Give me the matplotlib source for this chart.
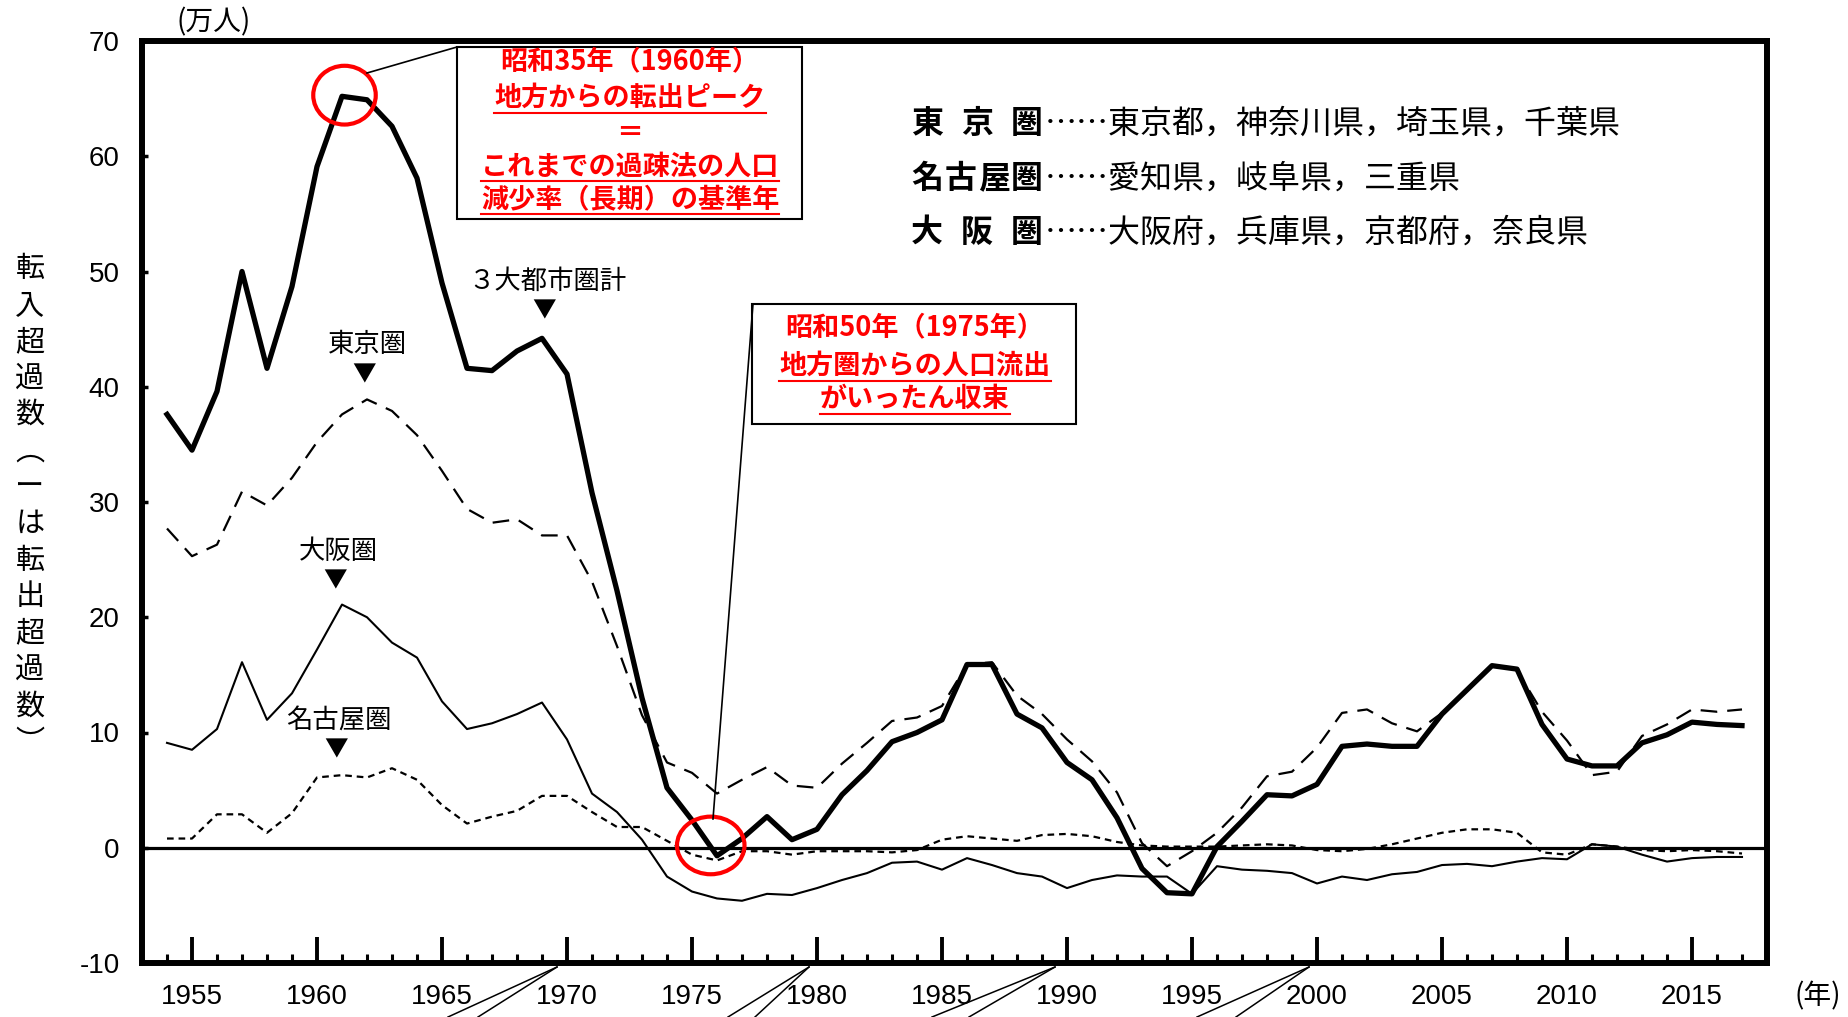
import matplotlib
matplotlib.use('Agg')
import matplotlib.pyplot as plt
from matplotlib.patches import Ellipse, Rectangle
from matplotlib.lines import Line2D
from matplotlib.ticker import MultipleLocator

# 転入超過数（万人）, 1954-2017
years = list(range(1954, 2018))
total = [37.6, 34.5, 39.6, 50.0, 41.6, 48.7, 59.1, 65.2, 64.9, 62.6,
         58.1, 49.0, 41.6, 41.4, 43.1, 44.2, 41.1, 30.8, 22.3, 13.0,
         5.2, 2.4, -0.7, 0.8, 2.7, 0.7, 1.6, 4.6, 6.7, 9.2,
         10.0, 11.1, 15.9, 15.9, 11.6, 10.4, 7.4, 5.9, 2.6, -1.8,
         -3.9, -4.0, 0.1, 2.3, 4.6, 4.5, 5.5, 8.8, 9.0, 8.8,
         8.8, 11.6, 13.7, 15.8, 15.5, 10.7, 7.7, 7.1, 7.1, 9.1,
         9.8, 10.9, 10.7, 10.6]
tokyo = [27.7, 25.3, 26.3, 30.9, 29.7, 32.1, 35.2, 37.6, 38.9, 37.9,
         35.8, 32.7, 29.4, 28.2, 28.5, 27.1, 27.1, 23.1, 17.5, 11.5,
         7.4, 6.5, 4.7, 5.9, 7.0, 5.4, 5.2, 7.3, 9.1, 11.0,
         11.3, 12.3, 15.9, 16.1, 13.2, 11.6, 9.4, 7.5, 4.8, 0.4,
         -1.6, -0.3, 1.3, 3.5, 6.2, 6.6, 8.7, 11.7, 12.0, 10.8,
         10.1, 11.7, 13.8, 15.8, 15.4, 11.8, 9.3, 6.3, 6.6, 9.7,
         10.7, 12.0, 11.8, 12.0]
osaka = [9.1, 8.5, 10.3, 16.1, 11.1, 13.4, 17.2, 21.1, 20.0, 17.8,
         16.5, 12.7, 10.3, 10.8, 11.6, 12.6, 9.4, 4.7, 3.1, 0.7,
         -2.5, -3.8, -4.4, -4.6, -4.0, -4.1, -3.5, -2.8, -2.2, -1.3,
         -1.2, -1.9, -0.9, -1.5, -2.2, -2.5, -3.5, -2.8, -2.4, -2.5,
         -2.5, -4.0, -1.6, -1.9, -2.0, -2.2, -3.1, -2.5, -2.8, -2.3,
         -2.1, -1.5, -1.4, -1.6, -1.2, -0.9, -1.0, 0.3, 0.1, -0.6,
         -1.2, -0.9, -0.8, -0.8]
nagoya = [0.8, 0.8, 2.9, 2.9, 1.3, 3.0, 6.1, 6.3, 6.1, 6.9,
          5.9, 3.7, 2.1, 2.7, 3.2, 4.5, 4.5, 3.1, 1.8, 1.8,
          0.6, -0.6, -1.1, -0.3, -0.3, -0.6, -0.3, -0.3, -0.3, -0.4,
          -0.2, 0.7, 1.0, 0.8, 0.6, 1.1, 1.2, 1.0, 0.5, 0.2,
          0.1, 0.1, 0.1, 0.2, 0.3, 0.2, -0.2, -0.3, -0.1, 0.3,
          0.8, 1.3, 1.6, 1.6, 1.3, -0.4, -0.6, 0.3, 0.1, -0.2,
          -0.3, -0.2, -0.3, -0.5]

W, H = 1849, 1017
JP = ['Noto Sans CJK JP', 'DejaVu Sans']
NUM = ['Liberation Sans Narrow', 'Liberation Sans', 'DejaVu Sans']
RED = '#ff0000'

plt.rcParams['font.family'] = JP
plt.rcParams['axes.unicode_minus'] = False


def fx(x):
    return x / W


def fy(y):
    return 1 - y / H


fig = plt.figure(figsize=(W / 100, H / 100), dpi=100)
ax = fig.add_axes([fx(142), fy(963), fx(1767) - fx(142), fy(41) - fy(963)])

# series
ax.plot(years, nagoya, color='black', lw=1.6, dashes=(3, 2.2))
ax.plot(years, osaka, color='black', lw=1.5)
ax.plot(years, tokyo, color='black', lw=1.6, dashes=(7.5, 4.5))
ax.plot(years, total, color='black', lw=3.8)
ax.axhline(0, color='black', lw=2.3)

# axes
ax.set_xlim(1953, 2018)
ax.set_ylim(-10, 70)
ax.set_yticks(range(-10, 71, 10))
ax.set_xticks(range(1955, 2016, 5))
ax.xaxis.set_minor_locator(MultipleLocator(1))
ax.tick_params(axis='x', which='major', direction='in', length=19, width=2.8,
               pad=15, labelsize=20)
ax.tick_params(axis='x', which='minor', direction='in', length=6.5, width=2.2)
ax.tick_params(axis='y', direction='in', length=4, width=2.5, pad=16, labelsize=20)
for lab in ax.get_xticklabels() + ax.get_yticklabels():
    lab.set_fontfamily(NUM)
for s in ax.spines.values():
    s.set_linewidth(4.3)

# red circles
i61 = years.index(1961)
i76 = years.index(1976)
ax.add_patch(Ellipse((1961.1, total[i61] + 0.1), 2.5, 5.1, fill=False, ec=RED, lw=3, zorder=5))
ax.add_patch(Ellipse((1975.75, total[i76] + 0.9), 2.7, 5.0, fill=False, ec=RED, lw=3, zorder=5))

# series labels
for label, (x, y) in [('３大都市圏計', (547, 281)), ('東京圏', (367, 345)),
                      ('大阪圏', (338, 551)), ('名古屋圏', (339, 720))]:
    fig.text(fx(x), fy(y), label, fontsize=19, ha='center', va='center')
    fig.text(fx(x - 3), fy(y + 30), '▼', fontsize=17, ha='center', va='center')

# unit labels
fig.text(fx(214), fy(22), '(万人)', fontsize=20, ha='center', va='center')
fig.text(fx(1818), fy(996), '(年)', fontsize=20, ha='center', va='center')

# vertical y label
ylab_chars = ['転', '入', '超', '過', '数', '︵', 'ー', 'は', '転', '出', '超', '過', '数', '︶']
fig.text(fx(30), fy(506), '\n'.join(ylab_chars), fontsize=21, ha='center', va='center',
         multialignment='center', linespacing=1.28)

# region legend
rows = [(['東', '京', '圏'], '……東京都，神奈川県，埼玉県，千葉県', 124),
        (['名', '古', '屋', '圏'], '……愛知県，岐阜県，三重県', 179),
        (['大', '阪', '圏'], '……大阪府，兵庫県，京都府，奈良県', 233)]
for chars, rest, yy in rows:
    step = 50 if len(chars) == 3 else 33.3
    for k, ch in enumerate(chars):
        fig.text(fx(911 + k * step), fy(yy), ch, fontsize=23, fontweight='bold',
                 ha='left', va='center')
    fig.text(fx(1045), fy(yy), rest, fontsize=23, ha='left', va='center')

# annotation boxes
fig.add_artist(Rectangle((fx(457), fy(219)), fx(802) - fx(457), fy(47) - fy(219),
                         transform=fig.transFigure, fc='white', ec='black', lw=1.5))
fig.add_artist(Rectangle((fx(752), fy(424)), fx(1076) - fx(752), fy(304) - fy(424),
                         transform=fig.transFigure, fc='white', ec='black', lw=1.5))
fig.add_artist(Line2D([fx(367), fx(457)], [fy(73), fy(47)], color='black', lw=1.2))
fig.add_artist(Line2D([fx(713), fx(753)], [fy(819), fy(304)], color='black', lw=1.2))

box_lines = [('昭和35年（1960年）', 630, 61, False),
             ('地方からの転出ピーク', 630, 98, True),
             ('＝', 630, 133, False),
             ('これまでの過疎法の人口', 630, 166, True),
             ('減少率（長期）の基準年', 630, 199, True),
             ('昭和50年（1975年）', 915, 327, False),
             ('地方圏からの人口流出', 915, 366, True),
             ('がいったん収束', 915, 399, True)]
under = []
for txt, x, y, ul in box_lines:
    t = fig.text(fx(x), fy(y), txt, fontsize=19.5, fontweight='bold', color=RED,
                 ha='center', va='center')
    if ul:
        under.append(t)

fig.canvas.draw()
renderer = fig.canvas.get_renderer()
for t in under:
    bb = t.get_window_extent(renderer)
    fig.add_artist(Line2D([bb.x0 / W, bb.x1 / W], [(bb.y0 - 1) / H, (bb.y0 - 1) / H],
                          color=RED, lw=1.5))

# stray leader strokes under the axis
for apex, ends in [((557, 967), (448, 478)), ((809, 967), (728, 755)),
                   ((1055, 967), (932, 969)), ((1309, 967), (1197, 1236))]:
    for ex in ends:
        fig.add_artist(Line2D([fx(apex[0]), fx(ex)], [fy(apex[1]), fy(1017)],
                              color='black', lw=1.1))

fig.savefig('out.png', dpi=100)
